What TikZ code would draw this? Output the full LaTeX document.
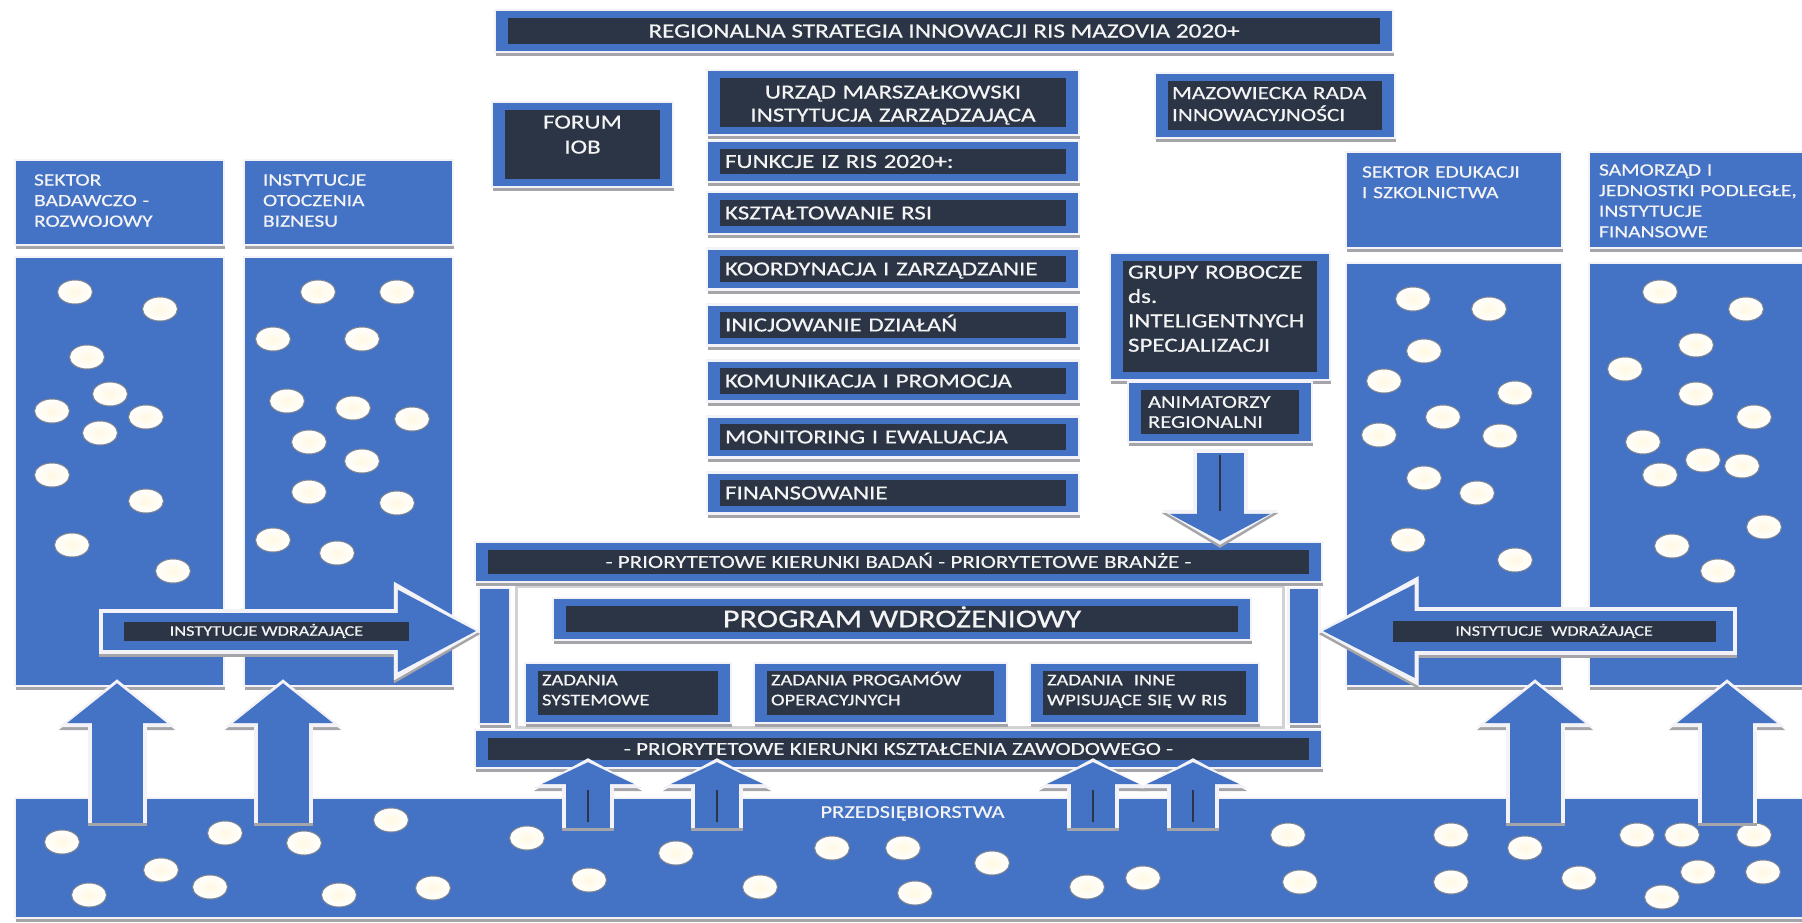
\documentclass[tikz,border=0pt]{standalone}
\usepackage{fontspec}
\setmainfont{Carlito}[FakeStretch=1.25,FakeBold=0.5]
\usetikzlibrary{positioning,shapes.geometric,shadows,arrows.meta}
\definecolor{rsblue}{HTML}{4472C4}
\definecolor{rsnavy}{HTML}{2B3546}
\definecolor{rsedge}{HTML}{F2F2F7}
\definecolor{rsshade}{HTML}{A5A5A9}
\definecolor{rscream}{HTML}{FFF8E2}
\definecolor{rstext}{HTML}{F4F4F4}
\tikzset{
box/.style={rectangle, fill=rsblue, draw=rsedge, line width=1.2pt, text=rstext, inner ysep=1pt,
  drop shadow={shadow xshift=0.6pt, shadow yshift=-2pt, opacity=1, fill=rsshade}},
navybox/.style={box, path picture={\fill[rsnavy] ([shift={(6.5pt,3.8pt)}]path picture bounding box.south west) rectangle ([shift={(-6.5pt,-3.8pt)}]path picture bounding box.north east);}},
func/.style={navybox, minimum width=186pt, minimum height=20.5pt, inner xsep=9pt, text width=168pt, align=left, font=\fontsize{10}{12}\selectfont, text height=6.4pt, text depth=0pt},
hdr/.style={box, align=left, text height=5.6pt, text depth=#1, font=\fontsize{8.6}{10.3}\selectfont},
task/.style={navybox, minimum height=30pt, inner xsep=8.5pt, align=left, text height=5.3pt, text depth=13pt, font=\fontsize{8.2}{10}\selectfont},
bar/.style={navybox, minimum width=423.5pt, font=\fontsize{9.2}{11}\selectfont, text height=5.9pt, text depth=0pt},
blob/.style={ellipse, minimum width=17.5pt, minimum height=12pt, inner sep=0pt, draw=rsnavy!60, line width=0.5pt, inner color=rscream, outer color=white},
instlabel/.style={rectangle, fill=rsnavy, text=rstext, inner sep=0pt, font=\fontsize{7.3}{8}\selectfont, text height=4.7pt, text depth=0pt},
upblock/.style={draw=rsblue, line width=25.5pt, -{Triangle[width=49pt,length=20pt]}, shorten >=-2pt,
  preaction={draw=rsshade, transform canvas={yshift=-1.5pt}, line width=29.5pt, -{Triangle[width=57pt,length=24pt]}, shorten >=-4pt},
  preaction={draw=rsedge, line width=29.5pt, -{Triangle[width=57pt,length=24pt]}, shorten >=-4pt}},
upsmall/.style={draw=rsblue, line width=22pt, -{Triangle[width=46pt,length=11pt]}, shorten >=-3.5pt,
  preaction={draw=rsshade, transform canvas={yshift=-1.5pt}, line width=26pt, -{Triangle[width=54pt,length=15pt]}, shorten >=-5.5pt},
  preaction={draw=rsedge, line width=26pt, -{Triangle[width=54pt,length=15pt]}, shorten >=-5.5pt},
  postaction={draw=rsnavy, line width=0.9pt, -, shorten <=3pt, shorten >=10.5pt}},
downblock/.style={draw=rsblue, line width=23.5pt, -{Triangle[width=50pt,length=13.5pt]}, shorten <=5pt,
  preaction={draw=rsshade, transform canvas={yshift=-1.5pt}, line width=27.5pt, -{Triangle[width=58pt,length=17.5pt]}, shorten <=3pt, shorten >=-2pt},
  preaction={draw=rsedge, line width=27.5pt, -{Triangle[width=58pt,length=17.5pt]}, shorten <=3pt, shorten >=-2pt},
  postaction={draw=rsnavy, line width=0.9pt, -, shorten <=6pt, shorten >=15pt}},
instleft/.style={draw=rsblue, line width=18.5pt, -{Triangle[width=38pt,length=40pt]},
  preaction={draw=rsshade, transform canvas={yshift=-1.5pt}, line width=22.5pt, -{Triangle[width=46pt,length=44pt]}, shorten >=-2pt, shorten <=-2pt},
  preaction={draw=rsedge, line width=22.5pt, -{Triangle[width=46pt,length=44pt]}, shorten >=-2pt, shorten <=-2pt}},
instright/.style={draw=rsblue, line width=20pt, -{Triangle[width=43pt,length=47pt]},
  preaction={draw=rsshade, transform canvas={yshift=-1.5pt}, line width=24pt, -{Triangle[width=51pt,length=51pt]}, shorten >=-2pt, shorten <=-2pt},
  preaction={draw=rsedge, line width=24pt, -{Triangle[width=51pt,length=51pt]}, shorten >=-2pt, shorten <=-2pt}}}

\begin{document}
\begin{tikzpicture}[x=0.5pt,y=-0.5pt]
\useasboundingbox (0,0) rectangle (1802,922);

% sector columns
\node (h1) [hdr=22.6pt, minimum width=104.5pt, minimum height=42.5pt, inner xsep=9.5pt, text width=85.5pt] at (119.5,202.5) {SEKTOR\\BADAWCZO -\\ROZWOJOWY};
\node (b1) [box, below of=h1, node distance=134.5pt, minimum width=104.5pt, minimum height=214.5pt] {};
\node (h2) [hdr=22.6pt, minimum width=104.5pt, minimum height=42.5pt, inner xsep=9.5pt, text width=85.5pt] at (348.5,202.5) {INSTYTUCJE\\OTOCZENIA\\BIZNESU};
\node (b2) [box, below of=h2, node distance=134.5pt, minimum width=104.5pt, minimum height=214.5pt] {};
\node (h3) [hdr=28.1pt, minimum width=108pt, minimum height=48pt, inner xsep=8pt, text width=92pt] at (1454,200) {SEKTOR EDUKACJI\\I SZKOLNICTWA};
\node (b3) [box, below of=h3, node distance=137.25pt, minimum width=108pt, minimum height=211.5pt] {};
\node (h4) [hdr=30.1pt, minimum width=110.5pt, minimum height=48pt, inner xsep=5pt, text width=100.5pt] at (1699.5,200) {SAMORZĄD I\\JEDNOSTKI PODLEGŁE,\\INSTYTUCJE\\FINANSOWE};
\node (b4) [box, below of=h4, node distance=137.25pt, minimum width=110.5pt, minimum height=211.5pt] {};
\node (firms) [box, minimum width=897.5pt, minimum height=60pt, text height=5.8pt, text depth=46pt, font=\fontsize{9}{11}\selectfont] at (912.5,858) {PRZEDSIĘBIORSTWA};

% entities
\foreach \x/\y [count=\i] in {75/292,160/309,87/357,110/394,52/411,146/417,100/433,52/475,146/501,72/545,173/571}
  \node (e1-\i) [blob] at (\x,\y) {};
\foreach \x/\y [count=\i] in {318/292,397/292,273/339,362/339,287/401,353/408,412/419,309/442,362/461,309/492,397/503,273/540,337/553}
  \node (e2-\i) [blob] at (\x,\y) {};
\foreach \x/\y [count=\i] in {1413/299,1489/309,1424/351,1384/381,1515/393,1443/417,1379/435,1500/436,1424/478,1477/493,1408/540,1515/560}
  \node (e3-\i) [blob] at (\x,\y) {};
\foreach \x/\y [count=\i] in {1660/292,1746/309,1696/345,1625/369,1696/394,1754/417,1643/442,1703/460,1742/466,1660/475,1764/527,1672/546,1718/571}
  \node (e4-\i) [blob] at (\x,\y) {};
\foreach \x/\y [count=\i] in {62/842,161/870,89/895,225/833,210/887,304/843,339/895,391/820,433/888,527/838,589/880,676/853,760/887,832/848,903/848,915/893,992/863,1087/887,1143/878,1288/835,1300/882,1451/835,1451/882,1525/848,1579/878,1637/835,1682/835,1754/835,1698/872,1763/872,1662/897}
  \node (e5-\i) [blob] at (\x,\y) {};

% strategy and management
\node (ris) [navybox, minimum width=449pt, minimum height=21pt, font=\fontsize{10.1}{12}\selectfont, text height=6.5pt, text depth=0pt] at (944,31) {REGIONALNA STRATEGIA INNOWACJI RIS MAZOVIA 2020+};
\node (forum) [navybox, minimum width=90.5pt, minimum height=42.5pt, align=center, text width=70pt, text height=6.4pt, text depth=22.4pt, font=\fontsize{10}{12.5}\selectfont] at (582.5,144.5) {FORUM\\IOB};
\node (urzad) [navybox, minimum width=186pt, minimum height=32.5pt, align=center, text width=170pt, text height=6.4pt, text depth=10.4pt, font=\fontsize{10}{11.5}\selectfont] at (893,102.5) {URZĄD MARSZAŁKOWSKI\\INSTYTUCJA ZARZĄDZAJĄCA};
\node (funkcje) [func] at (893,161.5) {FUNKCJE IZ RIS 2020+:};
\node (ksztalt) [func, minimum height=21pt] at (893,213) {KSZTAŁTOWANIE RSI};
\node (koord) [func, below of=ksztalt, node distance=28pt] {KOORDYNACJA I ZARZĄDZANIE};
\node (inicj) [func, below of=koord, node distance=28pt] {INICJOWANIE DZIAŁAŃ};
\node (komun) [func, below of=inicj, node distance=28pt] {KOMUNIKACJA I PROMOCJA};
\node (monit) [func, below of=komun, node distance=28pt] {MONITORING I EWALUACJA};
\node (finans) [func, below of=monit, node distance=28pt] {FINANSOWANIE};
\node (rada) [navybox, minimum width=120pt, minimum height=32.5pt, inner xsep=8.5pt, text width=103pt, align=left, text height=6pt, text depth=12.5pt, font=\fontsize{9.3}{11}\selectfont] at (1275,105.5) {MAZOWIECKA RADA\\INNOWACYJNOŚCI};
\node (grupy) [navybox, minimum width=110pt, minimum height=63.5pt, inner xsep=9pt, text width=92pt, align=left, text height=6.4pt, text depth=44.4pt, font=\fontsize{10}{12.2}\selectfont] at (1220,316.5) {GRUPY ROBOCZE\\ds.\\INTELIGENTNYCH\\SPECJALIZACJI};
\node (anim) [navybox, below of=grupy, node distance=47.75pt, minimum width=92pt, minimum height=30pt, inner xsep=10pt, text width=72pt, align=left, text height=5.8pt, text depth=10pt, font=\fontsize{9}{10}\selectfont] {ANIMATORZY\\REGIONALNI};

% implementation programme
\node (wdroz) [rectangle, fill=white, draw=rsshade!50, line width=1.5pt, minimum width=383.5pt, minimum height=70.5pt] at (899.5,656.5) {};
\node (kier) [bar, minimum height=20pt] at (898.5,562) {- PRIORYTETOWE KIERUNKI BADAŃ - PRIORYTETOWE BRANŻE -};
\node (ksztzaw) [bar, minimum height=19pt] at (898.5,749) {- PRIORYTETOWE KIERUNKI KSZTAŁCENIA ZAWODOWEGO -};
\node (sideL) [box, minimum width=15.5pt, minimum height=68pt] at (494.5,656) {};
\node (sideR) [box, minimum width=15.5pt, minimum height=68pt] at (1304,656) {};
\node (program) [navybox, minimum width=349pt, minimum height=21pt, font=\fontsize{12.9}{15}\selectfont, text height=8.3pt, text depth=0pt] at (902,619) {PROGRAM WDROŻENIOWY};
\node (zsys) [task, minimum width=103pt, text width=86pt] at (628,693) {ZADANIA\\SYSTEMOWE};
\node (zpo) [task, minimum width=126.5pt, text width=109.5pt] at (880.5,693) {ZADANIA PROGAMÓW\\OPERACYJNYCH};
\node (zinne) [task, minimum width=114.5pt, text width=97.5pt] at (1144.5,693) {ZADANIA\ \ INNE\\WPISUJĄCE SIĘ W RIS};

% flows
\coordinate (srcA) at (117,823);
\coordinate (srcB) at (283,823);
\coordinate (srcC) at (1535,823);
\coordinate (srcD) at (1727,823);
\draw [upblock] (srcA) -- (srcA |- b1.south);
\draw [upblock] (srcB) -- (srcB |- b2.south);
\draw [upblock] (srcC) -- (srcC |- b3.south);
\draw [upblock] (srcD) -- (srcD |- b4.south);
\coordinate (s1) at (588,828);
\coordinate (s2) at (717,828);
\coordinate (s3) at (1093,828);
\coordinate (s4) at (1193,828);
\draw [upsmall] (s1) -- (s1 |- ksztzaw.south);
\draw [upsmall] (s2) -- (s2 |- ksztzaw.south);
\draw [upsmall] (s3) -- (s3 |- ksztzaw.south);
\draw [upsmall] (s4) -- (s4 |- ksztzaw.south);
\draw [downblock] (anim.south) -- (anim.south |- kier.north);
\coordinate (instL) at (103,631);
\coordinate (instR) at (1733,631);
\draw [instleft] (instL) -- (instL -| sideL.west) node [instlabel, pos=0.436, minimum width=142.5pt, minimum height=9.5pt] {INSTYTUCJE WDRAŻAJĄCE};
\draw [instright] (instR) -- (instR -| sideR.east) node [instlabel, pos=0.434, minimum width=161.5pt, minimum height=10.5pt] {INSTYTUCJE\ \ WDRAŻAJĄCE};
\end{tikzpicture}
\end{document}
